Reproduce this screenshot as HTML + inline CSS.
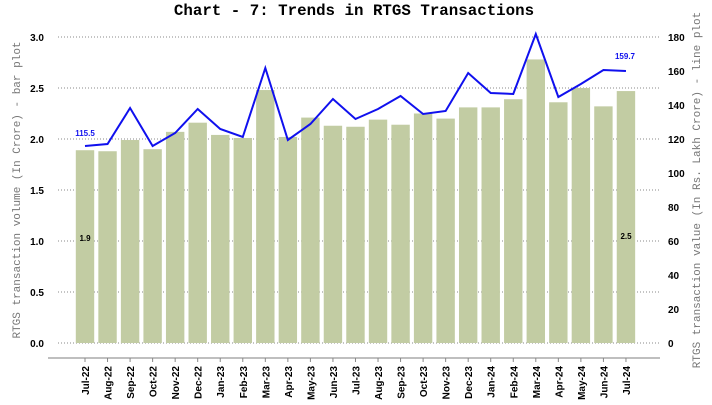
<!DOCTYPE html>
<html><head><meta charset="utf-8"><style>body{margin:0;background:#fff}svg{display:block}</style></head><body>
<svg id="s" width="712" height="405" xmlns="http://www.w3.org/2000/svg" font-family="Liberation Sans, sans-serif">
<text x="354" y="15" text-anchor="middle" font-family="Liberation Mono, monospace" font-weight="bold" font-size="15.8">Chart - 7: Trends in RTGS Transactions</text>
<g id="grid" stroke="#888" stroke-dasharray="1,2" stroke-width="1"></g>
<g id="bars" fill="#c2cca3"></g>
<line x1="48" y1="358" x2="660" y2="358" stroke="#aaa" stroke-width="1.5"/>
<g id="ticks" stroke="#888"></g>
<polyline id="ln" fill="none" stroke="#1010ee" stroke-width="2"/>
<g id="lab" font-size="10" font-weight="bold"></g>
<text x="85" y="136" font-size="8" font-weight="bold" fill="#1010ee" text-anchor="middle">115.5</text>
<text x="625" y="59" font-size="8" font-weight="bold" fill="#1010ee" text-anchor="middle">159.7</text>
<text x="85" y="241" font-size="8" font-weight="bold" text-anchor="middle">1.9</text>
<text x="626" y="239" font-size="8" font-weight="bold" text-anchor="middle">2.5</text>
<text transform="translate(20,190) rotate(-90)" text-anchor="middle" font-family="Liberation Mono, monospace" font-size="11" fill="#777">RTGS transaction volume (In Crore) - bar plot</text>
<text transform="translate(700,190) rotate(-90)" text-anchor="middle" font-family="Liberation Mono, monospace" font-size="11" fill="#777">RTGS transaction value (In Rs. Lakh Crore) - line plot</text>
</svg>
<script>
const NS="http://www.w3.org/2000/svg";
function el(p,t,a,tx){const e=document.createElementNS(NS,t);for(const k in a)e.setAttribute(k,a[k]);if(tx)e.textContent=tx;document.getElementById(p).appendChild(e);}
const months=["Jul-22","Aug-22","Sep-22","Oct-22","Nov-22","Dec-22","Jan-23","Feb-23","Mar-23","Apr-23","May-23","Jun-23","Jul-23","Aug-23","Sep-23","Oct-23","Nov-23","Dec-23","Jan-24","Feb-24","Mar-24","Apr-24","May-24","Jun-24","Jul-24"];
const bars=[1.89,1.88,1.99,1.90,2.07,2.16,2.04,2.01,2.48,2.02,2.21,2.13,2.12,2.19,2.14,2.25,2.20,2.31,2.31,2.39,2.78,2.36,2.50,2.32,2.47];
const ly=[146,144,108,146,133,109,129,137,68,140,124,99,119,109,96,114,111,73,93,94,34,97,84,70,71];
for(let i=0;i<=6;i++){const y=343-i*51;el("grid","line",{x1:58,y1:y,x2:660,y2:y});
el("lab","text",{x:44,y:y+4,"text-anchor":"end"},(i*0.5).toFixed(1));}
for(let i=0;i<=9;i++){const y=343-i*34;el("lab","text",{x:668,y:y+4},String(i*20));}
let pts=[];
months.forEach((m,i)=>{const cx=85+i*22.54;const top=343-bars[i]*102;
el("bars","rect",{x:cx-9.2,y:top,width:18.4,height:343-top});
el("ticks","line",{x1:cx,y1:358,x2:cx,y2:362});
el("lab","text",{transform:`translate(${cx+4},366) rotate(-90)`,"text-anchor":"end"},m);
pts.push(cx+","+ly[i]);});
document.getElementById("ln").setAttribute("points",pts.join(" "));
</script>
</body></html>
